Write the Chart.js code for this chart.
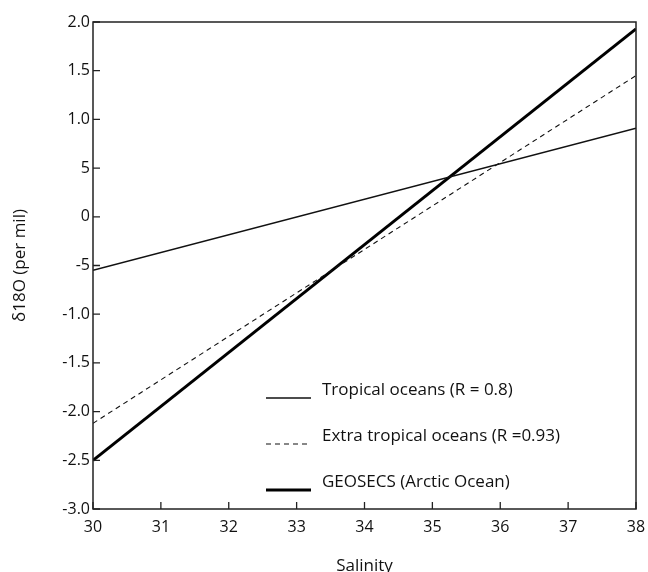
<!DOCTYPE html>
<html><head><meta charset="utf-8">
<script src="https://cdn.jsdelivr.net/npm/chart.js@4"></script>
<style>html,body{margin:0;padding:0;background:#fff}#wrap{width:648px;height:572px}</style>
</head><body><div id="wrap"><canvas id="c" width="648" height="572"></canvas></div>
<script>
const salinity = [30, 38];
const tropical = [-0.55, 0.91];
const extraTropical = [-2.12, 1.45];
const geosecs = [-2.5, 1.93];
const seriesNames = ["Tropical oceans (R = 0.8)", "Extra tropical oceans (R =0.93)", "GEOSECS (Arctic Ocean)"];
const xTicks = [30, 31, 32, 33, 34, 35, 36, 37, 38];
const yTickValues = [-3, -2.5, -2, -1.5, -1, -0.5, 0, 0.5, 1, 1.5, 2];
const yTickLabels = ["-3.0", "-2.5", "-2.0", "-1.5", "-1.0", "-5", "0", "5", "1.0", "1.5", "2.0"];
const xTitle = "Salinity";
const yTitle = "δ18O (per mil)";

const FONT = "'Open Sans', sans-serif";
const pts = ys => salinity.map((x, i) => ({x, y: ys[i]}));

const frame = {
  id: 'frame',
  afterDatasetsDraw(chart) {
    const {ctx, chartArea: a, scales} = chart;
    ctx.save();
    ctx.strokeStyle = '#222';
    ctx.lineWidth = 1.5;
    ctx.strokeRect(a.left, a.top, a.right - a.left, a.bottom - a.top);
    ctx.lineWidth = 1.3;
    ctx.beginPath();
    xTicks.forEach(v => {
      const px = scales.x.getPixelForValue(v);
      ctx.moveTo(px, a.bottom); ctx.lineTo(px, a.bottom - 7);
    });
    yTickValues.forEach(v => {
      const py = scales.y.getPixelForValue(v);
      ctx.moveTo(a.left, py); ctx.lineTo(a.left + 7, py);
    });
    ctx.stroke();
    // legend
    const ys = [390, 436, 482];
    chart.data.datasets.forEach((ds, i) => {
      const y = ys[i];
      ctx.strokeStyle = ds.borderColor;
      ctx.lineWidth = ds.borderWidth;
      ctx.setLineDash(ds.borderDash || []);
      ctx.beginPath();
      ctx.moveTo(266, y + 8); ctx.lineTo(311, y + 8);
      ctx.stroke();
      ctx.setLineDash([]);
      ctx.fillStyle = '#111';
      ctx.font = '17px ' + FONT;
      ctx.textBaseline = 'middle';
      ctx.textAlign = 'left';
      ctx.fillText(ds.label, 322, y);
    });
    ctx.restore();
  }
};

new Chart(document.getElementById('c'), {
  type: 'scatter',
  data: {
    datasets: [
      {label: seriesNames[0], data: pts(tropical), showLine: true, borderColor: '#111', borderWidth: 1.5, pointRadius: 0},
      {label: seriesNames[1], data: pts(extraTropical), showLine: true, borderColor: '#111', borderWidth: 1.1, borderDash: [5, 4], pointRadius: 0},
      {label: seriesNames[2], data: pts(geosecs), showLine: true, borderColor: '#000', borderWidth: 3, pointRadius: 0}
    ]
  },
  options: {
    responsive: false,
    animation: false,
    devicePixelRatio: 1,
    layout: {padding: {top: 22, right: 12, left: 0, bottom: 0}},
    plugins: {legend: {display: false}, tooltip: {enabled: false}},
    scales: {
      x: {
        type: 'linear', min: 30, max: 38,
        afterFit(s) { s.height = 63; s.paddingLeft = 0; s.paddingRight = 0; },
        grid: {display: false, drawTicks: false},
        border: {display: false},
        ticks: {stepSize: 1, padding: 9, color: '#111', font: {family: FONT, size: 16}},
        title: {display: true, text: xTitle, color: '#111', font: {family: FONT, size: 17}, padding: {top: 0, bottom: -4}}
      },
      y: {
        type: 'linear', min: -3, max: 2,
        afterFit(s) { s.width = 93; s.paddingTop = 0; s.paddingBottom = 0; },
        grid: {display: false, drawTicks: false},
        border: {display: false},
        ticks: {stepSize: 0.5, padding: 3, color: '#111', font: {family: FONT, size: 16},
          callback: v => { const i = yTickValues.findIndex(t => Math.abs(t - v) < 1e-9); return i >= 0 ? yTickLabels[i] : ''; }},
        title: {display: true, text: yTitle, color: '#111', font: {family: FONT, size: 17}, padding: {top: 10, bottom: 0}}
      }
    }
  },
  plugins: [frame]
});
</script></body></html>
